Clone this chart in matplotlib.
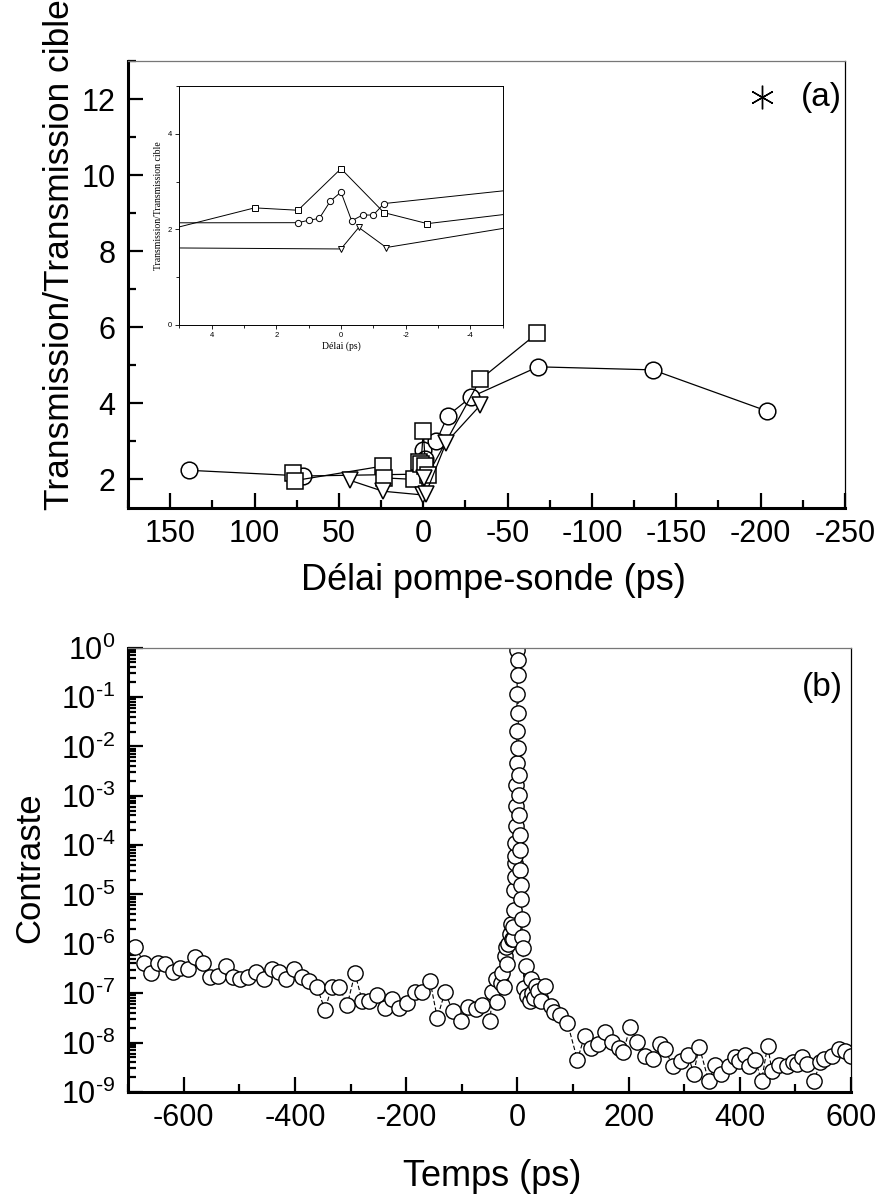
import numpy as np
import matplotlib
matplotlib.use('Agg')
from matplotlib import pyplot as plt
from matplotlib.ticker import MultipleLocator, LogLocator, NullFormatter, FuncFormatter

plt.rcParams['font.family'] = ['Liberation Sans', 'DejaVu Sans']
plt.rcParams['axes.unicode_minus'] = False
plt.rcParams['mathtext.default'] = 'regular'

# --- panel (a): transmission ratio vs pump-probe delay (ps) ---
circ_delay = [139, 71, 1.33, 1.0, 0.67, 0.33, 0.0, -0.33, -0.67, -1.0, -1.33,
              -7.7, -14.6, -28.5, -68.0, -136.0, -203.6]
circ_ratio = [2.24, 2.09, 2.14, 2.19, 2.23, 2.59, 2.78, 2.18, 2.30, 2.30, 2.54,
              3.00, 3.68, 4.17, 4.96, 4.88, 3.80]

sq_delay = [77, 76, 24, 23, 5.3, 2.67, 1.33, 0.0, -1.33, -2.67, -33.8, -67.5]
sq_ratio = [2.17, 1.97, 2.35, 2.04, 2.00, 2.45, 2.40, 3.27, 2.35, 2.12, 4.63, 5.84]

tri_delay = [43.7, 24, 0.0, -0.55, -1.4, -13.6, -33.8]
tri_ratio = [1.98, 1.69, 1.59, 2.04, 1.62, 2.97, 3.95]

star_delay = [-201]
star_ratio = [12.05]

# --- panel (b): contrast vs time (ps), values stored as log10(contrast) ---
time_ps = [-687, -671, -659, -646, -634, -620, -606, -592, -579, -565, -552, -538,
           -524, -511, -498, -484, -470, -456, -442, -429, -416, -402, -388, -375,
           -360, -346, -334, -320, -306, -292, -279, -266, -252, -238, -225, -212,
           -198, -184, -171, -157, -144, -130, -116, -102, -89, -75, -63, -49,
           -45, -39, -36, -30, -27, -24, -22, -20, -18, -16, -14, -12, -10,
           -8, -7, -6, -5.5, -5, -4.5, -4, -3.5, -3, -2.5, -2, -1.5, -1, -0.5,
           0, 0.5, 1, 1.5, 2, 2.5, 3, 3.5, 4, 4.5, 5, 6, 7, 8, 9, 10,
           12, 15, 18, 22, 24, 27, 30, 33, 38, 43, 49, 61, 66, 76, 90, 108,
           121, 133, 145, 157, 170, 182, 190, 203, 216, 230, 244, 256, 265, 280,
           294, 307, 317, 327, 344, 356, 367, 380, 392, 398, 410, 416, 428, 439,
           450, 458, 470, 484, 495, 502, 512, 520, 533, 545, 551, 565, 578, 590, 600]
log_contrast = [-6.07, -6.38, -6.60, -6.38, -6.41, -6.57, -6.48, -6.50, -6.27, -6.38, -6.68, -6.65,
                -6.44, -6.68, -6.71, -6.68, -6.58, -6.71, -6.51, -6.58, -6.71, -6.51, -6.68, -6.75,
                -6.88, -7.34, -6.88, -6.88, -7.24, -6.60, -7.15, -7.15, -7.04, -7.30, -7.12, -7.29,
                -7.20, -6.97, -6.97, -6.75, -7.50, -6.97, -7.37, -7.56, -7.27, -7.32, -7.24, -7.56,
                -6.98, -6.71, -7.18, -6.80, -6.60, -6.88, -6.24, -6.07, -6.40, -6.00, -5.80, -5.60, -5.90,
                -5.90, -5.66, -5.32, -4.91, -4.64, -4.36, -4.23, -3.95, -3.61, -3.20, -2.79, -2.34, -1.69, -0.94,
                -0.05, -0.25, -0.56, -1.32, -2.04, -2.58, -2.99, -3.40, -3.80, -4.10, -4.50, -4.80, -5.10, -5.50, -5.87, -6.08,
                -6.90, -6.44, -7.05, -7.15, -6.71, -7.00, -7.10, -6.85, -6.95, -7.15, -6.86, -7.25, -7.38, -7.45, -7.60, -8.35,
                -7.86, -8.10, -8.03, -7.79, -7.99, -8.10, -8.20, -7.68, -7.98, -8.28, -8.33, -8.03, -8.13, -8.48,
                -8.38, -8.25, -8.63, -8.08, -8.78, -8.45, -8.63, -8.48, -8.30, -8.38, -8.25, -8.48, -8.35, -8.78,
                -8.06, -8.58, -8.45, -8.48, -8.40, -8.43, -8.30, -8.43, -8.78, -8.40, -8.33, -8.28, -8.13, -8.17, -8.28]


def style_axes(ax):
    for side in ['left', 'bottom']:
        ax.spines[side].set_linewidth(2.2)
    ax.spines['right'].set_linewidth(0.9)
    ax.spines['top'].set_linewidth(0.9)
    ax.spines['top'].set_color('#777777')
    ax.tick_params(which='both', direction='in', top=False, right=False, width=1.6)
    ax.tick_params(which='major', length=11, labelsize=22)
    ax.tick_params(which='minor', length=6)
    ax.tick_params(axis='x', which='major', pad=8)
    ax.tick_params(axis='y', which='major', pad=9)


def decade_label(v, pos):
    # Origin style: plain hyphen in the exponent
    e = int(round(np.log10(v)))
    exp = '\u2010%d' % -e if e < 0 else '%d' % e
    return '$10^{%s}$' % exp


fig = plt.figure(figsize=(8.77, 11.96), dpi=100)

# ---------------- panel (a) ----------------
ax1 = fig.add_axes([0.146, 0.5753, 0.8175, 0.3737])
line_kw = dict(color='black', lw=0.9, markerfacecolor='white', markeredgecolor='black', mew=1.1)
ax1.plot(circ_delay, circ_ratio, marker='o', ms=12, **line_kw)
ax1.plot(sq_delay, sq_ratio, marker='s', ms=11, **line_kw)
ax1.plot(tri_delay, tri_ratio, marker='v', ms=12, **line_kw)
ax1.plot(star_delay, star_ratio, ls='none', marker=(6, 2, 0), ms=17, color='black', mew=1.0)
ax1.set_xlim(175, -250)
ax1.set_ylim(1.25, 13)
ax1.xaxis.set_major_locator(MultipleLocator(50))
ax1.xaxis.set_minor_locator(MultipleLocator(25))
ax1.yaxis.set_major_locator(MultipleLocator(2))
ax1.yaxis.set_minor_locator(MultipleLocator(1))
style_axes(ax1)
ax1.text(0.996, 0.919, '(a)', transform=ax1.transAxes, ha='right', va='center', fontsize=24)

# inset
axi = fig.add_axes([0.2044, 0.7283, 0.3688, 0.1998])
in_kw = dict(color='black', lw=0.7, markerfacecolor='white', markeredgecolor='black', mew=0.7)
axi.plot(circ_delay, circ_ratio, marker='o', ms=4.5, **in_kw)
axi.plot(sq_delay, sq_ratio, marker='s', ms=4.0, **in_kw)
axi.plot(tri_delay, tri_ratio, marker='v', ms=4.5, **in_kw)
axi.set_xlim(5, -5)
axi.set_ylim(0, 5)
axi.xaxis.set_major_locator(MultipleLocator(2))
axi.xaxis.set_minor_locator(MultipleLocator(1))
axi.yaxis.set_major_locator(MultipleLocator(2))
axi.yaxis.set_minor_locator(MultipleLocator(1))
for sp in axi.spines.values():
    sp.set_linewidth(0.7)
axi.tick_params(which='both', direction='out', top=False, right=False, width=0.6)
axi.tick_params(which='major', length=3, labelsize=5.5, pad=2)
axi.tick_params(which='minor', length=2)
axi.set_xlabel('Délai (ps)', family='Liberation Serif', fontsize=7, labelpad=2)
axi.set_ylabel('Transmission/Transmission cible', family='Liberation Serif', fontsize=7, labelpad=4)

fig.text(60 / 877, 1 - 255 / 1196, 'Transmission/Transmission cible', rotation=90,
         ha='center', va='center', fontsize=25.5)
fig.text(493 / 877, 1 - 580 / 1196, 'Délai pompe-sonde (ps)', ha='center', va='center',
         fontsize=26)

# ---------------- panel (b) ----------------
ax2 = fig.add_axes([0.146, 0.0870, 0.8244, 0.3715])
contrast = 10.0 ** np.array(log_contrast)
ax2.plot(time_ps, contrast, ls='--', dashes=(4, 2), color='black', lw=0.8,
         marker='o', ms=11, markerfacecolor='white', markeredgecolor='black', mew=1.0)
ax2.set_yscale('log')
ax2.set_xlim(-700, 600)
ax2.set_ylim(1e-9, 1)
ax2.xaxis.set_major_locator(MultipleLocator(200))
ax2.xaxis.set_minor_locator(MultipleLocator(100))
ax2.yaxis.set_major_locator(LogLocator(base=10, numticks=20))
ax2.yaxis.set_major_formatter(FuncFormatter(decade_label))
ax2.yaxis.set_minor_locator(LogLocator(base=10, subs=np.arange(2, 10), numticks=20))
ax2.yaxis.set_minor_formatter(NullFormatter())
style_axes(ax2)
ax2.text(0.989, 0.91, '(b)', transform=ax2.transAxes, ha='right', va='center', fontsize=24)

fig.text(30 / 877, 1 - 868 / 1196, 'Contraste', rotation=90, ha='center', va='center', fontsize=25)
fig.text(492 / 877, 1 - 1177 / 1196, 'Temps (ps)', ha='center', va='center', fontsize=26)

fig.savefig('out.png', dpi=100)
